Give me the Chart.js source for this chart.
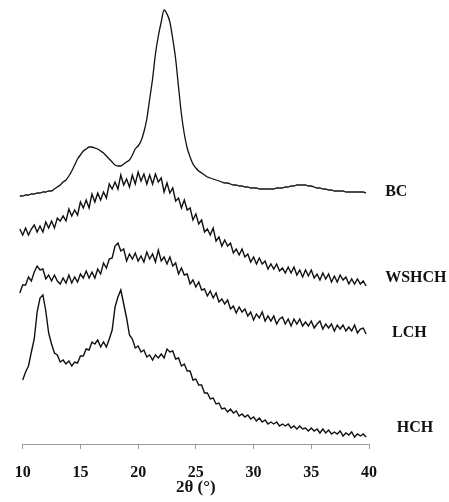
<!DOCTYPE html>
<html>
<head>
<meta charset="utf-8">
<script src="https://cdn.jsdelivr.net/npm/chart.js@4.4.1/dist/chart.umd.min.js"></script>
<style>
  html, body { margin: 0; padding: 0; background: #fff; }
  #wrap { position: relative; width: 449px; height: 502px; }
</style>
</head>
<body>
<div id="wrap"><canvas id="xrd"></canvas></div>
<script>
// XRD patterns, offset vertically (arbitrary intensity units, 0 = axis line).

const FONT = "'Liberation Serif', 'Times New Roman', serif";
const INK = "#111111";
const AXIS = "#9a9a9a";

// 2θ sampling (degrees)
const angles = [
  9.75, 10, 10.25, 10.5, 10.75, 11, 11.25, 11.5, 11.75, 12, 12.25, 12.5, 12.75, 13, 13.25, 13.5, 13.75, 14, 14.25, 14.5,
  14.75, 15, 15.25, 15.5, 15.75, 16, 16.25, 16.5, 16.75, 17, 17.25, 17.5, 17.75, 18, 18.25, 18.5, 18.75, 19, 19.25, 19.5,
  19.75, 20, 20.25, 20.5, 20.75, 21, 21.25, 21.5, 21.75, 22, 22.25, 22.5, 22.75, 23, 23.25, 23.5, 23.75, 24, 24.25, 24.5,
  24.75, 25, 25.25, 25.5, 25.75, 26, 26.25, 26.5, 26.75, 27, 27.25, 27.5, 27.75, 28, 28.25, 28.5, 28.75, 29, 29.25, 29.5,
  29.75, 30, 30.25, 30.5, 30.75, 31, 31.25, 31.5, 31.75, 32, 32.25, 32.5, 32.75, 33, 33.25, 33.5, 33.75, 34, 34.25, 34.5,
  34.75, 35, 35.25, 35.5, 35.75, 36, 36.25, 36.5, 36.75, 37, 37.25, 37.5, 37.75, 38, 38.25, 38.5, 38.75, 39, 39.25, 39.5, 39.75,
];

const bc = [
  248, 248, 249, 249, 250, 250, 251, 251, 252, 252, 253, 253, 255, 257, 259, 262, 264, 268, 273, 279,
  285, 289, 293, 295, 297, 297, 296, 295, 293, 291, 288, 285, 282, 279, 278, 278, 280, 282, 284, 289,
  295, 298, 303, 312, 325, 345, 365, 390, 408, 422, 434, 430, 422, 405, 385, 357, 330, 310, 296, 287,
  280, 276, 273, 271, 269, 267, 266, 265, 264, 263, 262, 261, 261, 260, 259, 259, 258, 258, 257, 257,
  256, 256, 256, 255, 255, 255, 255, 255, 255, 256, 256, 256, 257, 257, 258, 258, 259, 259, 259, 259,
  258, 258, 257, 256, 256, 255, 255, 254, 254, 253, 253, 253, 253, 252, 252, 252, 252, 252, 252, 252, 251,
];

const wshch = [
  215, 209, 216, 209, 215, 219, 212, 218, 212, 222, 216, 223, 216, 226, 223, 228, 223, 235, 228, 234,
  229, 242, 236, 244, 236, 250, 242, 251, 244, 252, 246, 260, 255, 262, 255, 269, 259, 265, 257, 269,
  260, 272, 263, 270, 260, 269, 260, 270, 262, 266, 252, 261, 251, 256, 243, 246, 236, 244, 234, 236,
  224, 230, 220, 224, 212, 215, 209, 216, 203, 207, 198, 204, 198, 201, 191, 195, 189, 195, 187, 190,
  182, 187, 180, 186, 180, 183, 175, 180, 175, 180, 173, 176, 171, 177, 171, 177, 169, 174, 167, 174,
  168, 174, 166, 170, 164, 171, 165, 170, 162, 168, 162, 169, 164, 167, 160, 165, 160, 165, 160, 163, 158,
];

const lch = [
  151, 159, 159, 167, 163, 172, 178, 174, 175, 165, 169, 163, 169, 163, 160, 166, 161, 169, 161, 167,
  162, 170, 166, 173, 166, 172, 166, 175, 170, 181, 176, 185, 186, 198, 201, 193, 195, 183, 190, 185,
  191, 183, 188, 182, 192, 185, 190, 182, 194, 183, 187, 180, 187, 178, 181, 170, 176, 169, 170, 160,
  164, 157, 162, 154, 155, 148, 153, 146, 151, 142, 145, 140, 144, 135, 138, 131, 137, 132, 135, 128,
  132, 124, 130, 126, 132, 123, 128, 123, 128, 120, 125, 127, 120, 125, 118, 125, 120, 125, 118, 122,
  118, 123, 116, 120, 123, 115, 120, 116, 120, 113, 119, 115, 119, 113, 117, 113, 119, 111, 115, 116, 110,
];

const hch = [
  null, 64, 72, 78, 92, 105, 132, 146, 149, 133, 111, 100, 91, 89, 82, 84, 80, 83, 78, 82,
  81, 88, 88, 95, 94, 102, 100, 104, 97, 102, 97, 105, 114, 137, 147, 154, 140, 126, 109, 105,
  96, 98, 92, 94, 87, 89, 84, 89, 86, 90, 86, 95, 92, 93, 85, 86, 78, 80, 73, 73,
  64, 65, 59, 59, 51, 51, 45, 46, 40, 41, 35, 36, 32, 35, 31, 33, 28, 30, 27, 29,
  25, 27, 23, 26, 22, 24, 20, 22, 20, 22, 18, 20, 18, 20, 16, 18, 15, 18, 15, 16,
  13, 16, 13, 15, 11, 15, 11, 14, 10, 12, 10, 13, 8, 11, 9, 12, 7, 10, 8, 10, 7,
];

const seriesNames = ["BC", "WSHCH", "LCH", "HCH"];
const xTicks = [10, 15, 20, 25, 30, 35, 40];

// where each sample name sits to the right of its trace (2θ, intensity)
const labelAnchors = [
  { x: 41.4, y: 252 },
  { x: 41.4, y: 166 },
  { x: 42.0, y: 111 },
  { x: 42.4, y: 16 },
];

const toPoints = (vals) => angles.map((a, i) => ({ x: a, y: vals[i] }));

const seriesLabels = {
  id: "seriesLabels",
  afterDatasetsDraw(chart) {
    const { ctx, scales: { x, y } } = chart;
    ctx.save();
    ctx.font = "bold 16px " + FONT;
    ctx.fillStyle = INK;
    ctx.textAlign = "left";
    ctx.textBaseline = "middle";
    seriesNames.forEach((name, i) => {
      const a = labelAnchors[i];
      ctx.fillText(name, x.getPixelForValue(a.x), y.getPixelForValue(a.y));
    });
    ctx.restore();
  },
};

const line = (label, vals, smooth) => ({
  label,
  data: toPoints(vals),
  borderColor: INK,
  borderWidth: smooth ? 1.3 : 1.4,
  pointRadius: 0,
  cubicInterpolationMode: smooth ? "monotone" : "default",
  tension: 0,
  clip: false,
  spanGaps: false,
});

new Chart(document.getElementById("xrd"), {
  type: "line",
  data: {
    datasets: [
      line("BC", bc, true),
      line("WSHCH", wshch, false),
      line("LCH", lch, false),
      line("HCH", hch, false),
    ],
  },
  options: {
    responsive: true,
    maintainAspectRatio: false,
    animation: false,
    layout: { padding: { left: 22.7, right: 80, top: 5, bottom: 0 } },
    plugins: { legend: { display: false }, tooltip: { enabled: false } },
    scales: {
      x: {
        type: "linear",
        min: 10,
        max: 40,
        afterBuildTicks: (s) => { s.ticks = xTicks.map((v) => ({ value: v })); },
        afterFit: (s) => { s.height = 58; },
        grid: { drawOnChartArea: false, drawTicks: true, tickLength: 5, color: AXIS },
        border: { display: true, color: AXIS, width: 1 },
        ticks: {
          color: INK,
          padding: 14,
          maxRotation: 0,
          font: { family: FONT, size: 16, weight: "bold" },
        },
        title: {
          display: true,
          text: "2θ (°)",
          color: INK,
          padding: { top: 0, bottom: 4 },
          font: { family: FONT, size: 17, weight: "bold" },
        },
      },
      y: { display: false, min: 0, max: 439 },
    },
  },
  plugins: [seriesLabels],
});
</script>
</body>
</html>
